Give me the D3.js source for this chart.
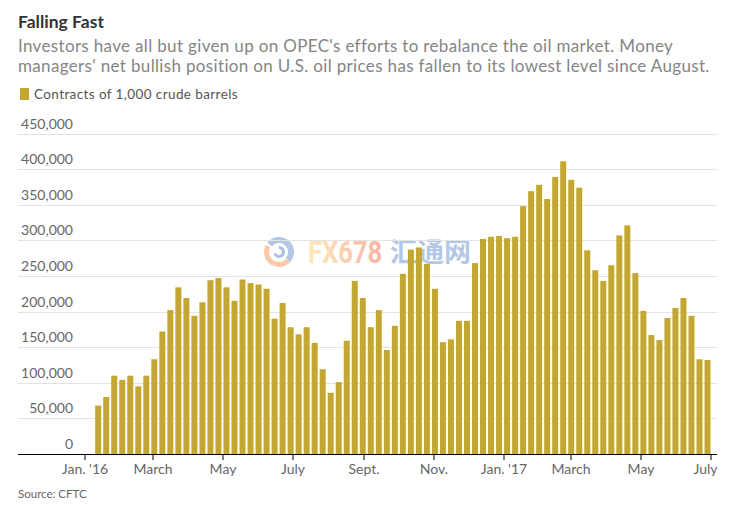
<!DOCTYPE html>
<html>
<head>
<meta charset="utf-8">
<script src="https://cdnjs.cloudflare.com/ajax/libs/d3/7.8.5/d3.min.js"></script>
<style>
  html, body { margin: 0; padding: 0; background: #fff; }
  svg { display: block; font-family: Lato, sans-serif; }
</style>
</head>
<body>
<svg id="chart" width="734" height="505"></svg>
<script>
// Weekly CFTC report dates, Tuesdays
var firstWeek = '2016-01-12'
var lastWeek = '2017-06-27'

// Net long position, contracts
var contracts = [
  68000, 80000, 110000, 104000, 110000, 95000, 110000, 133000, 172000, 202000,
  234000, 219000, 194000, 213000, 244000, 247000, 234000, 215000, 245000, 240000,
  238000, 232000, 190000, 212000, 178000, 168000, 178000, 156000, 119000, 86000,
  101000, 159000, 243000, 219000, 178000, 202000, 146000, 180000, 253000, 287000,
  290000, 267000, 232000, 157000, 161000, 187000, 187000, 268000, 302000, 305000,
  306000, 303000, 305000, 348000, 369000, 378000, 358000, 389000, 411000, 385000,
  374000, 286000, 258000, 243000, 265000, 307000, 321000, 254000, 201000, 167000,
  160000, 191000, 205000, 219000, 194000, 133000, 132000
]

var yTicks = [0, 50000, 100000, 150000, 200000, 250000, 300000, 350000, 400000, 450000]

var xTickDates = ['2016-01-01', '2016-03-01', '2016-05-01', '2016-07-01', '2016-09-01',
  '2016-11-01', '2017-01-01', '2017-03-01', '2017-05-01', '2017-07-01']
var xTickLabels = ["Jan. '16", 'March', 'May', 'July', 'Sept.', 'Nov.', "Jan. '17", 'March', 'May', 'July']

var subtitleLines = [
  "Investors have all but given up on OPEC's efforts to rebalance the oil market. Money",
  "managers' net bullish position on U.S. oil prices has fallen to its lowest level since August."
]

var gold = '#c4a732'
var parseDate = d3.utcParse('%Y-%m-%d')

var svg = d3.select('#chart')

var x = d3.scaleUtc()
  .domain([parseDate('2016-01-01'), parseDate('2017-07-01')])
  .range([84.5, 711])
var y = d3.scaleLinear()
  .domain([0, 450000])
  .range([454, 133.5])

var weeks = d3.utcDay.range(parseDate(firstWeek), d3.utcDay.offset(parseDate(lastWeek), 1), 7)

// Header
svg.append('text').attr('x', 18).attr('y', 28)
  .attr('font-size', 17.5).attr('font-weight', 700).attr('fill', '#333')
  .text('Falling Fast')

svg.selectAll('.subtitle').data(subtitleLines).enter().append('text')
  .attr('class', 'subtitle')
  .attr('x', 18)
  .attr('y', function(d, i) { return 52 + i * 20 })
  .attr('font-size', 17)
  .attr('letter-spacing', 0.34)
  .attr('fill', '#858585')
  .text(function(d) { return d })

// Legend
svg.append('rect').attr('x', 20).attr('y', 88).attr('width', 9).attr('height', 12).attr('fill', gold)
svg.append('text').attr('x', 34).attr('y', 99)
  .attr('font-size', 13.5).attr('letter-spacing', 0.4).attr('fill', '#555')
  .text('Contracts of 1,000 crude barrels')

// Watermark, sits behind the gridlines and bars
var defs = svg.append('defs')
var fade = defs.append('linearGradient').attr('id', 'fxFade')
fade.append('stop').attr('offset', '0%').attr('stop-color', '#fdeab8')
fade.append('stop').attr('offset', '100%').attr('stop-color', '#fbb3a6')

var mark = svg.append('g').attr('class', 'watermark')
var logo = mark.append('g').attr('transform', 'translate(279,252)')
var logoArc = d3.arc()
logo.append('path')
  .attr('d', logoArc({innerRadius: 9, outerRadius: 15, startAngle: -0.9, endAngle: 2.3}))
  .attr('fill', '#b4c8e6')
logo.append('path')
  .attr('d', logoArc({innerRadius: 10, outerRadius: 15, startAngle: 2.3, endAngle: 5.2}))
  .attr('fill', '#f9c9a8')
logo.append('path')
  .attr('d', logoArc({innerRadius: 3, outerRadius: 6, startAngle: 0, endAngle: 4.4}))
  .attr('fill', '#a9c0e2')
// letters are tall and narrow in the original, so stretch vertically
mark.append('text')
  .attr('transform', 'translate(308,263) scale(1,1.25)')
  .attr('font-family', 'Roboto, sans-serif').attr('font-size', 25.5).attr('font-weight', 700)
  .attr('fill', 'url(#fxFade)')
  .text('FX678')
mark.append('text').attr('x', 390).attr('y', 262)
  .attr('font-family', 'Noto Sans CJK SC, sans-serif').attr('font-size', 27).attr('font-weight', 700)
  .attr('fill', '#b3c8e6')
  .text('汇通网')

// Gridlines and y labels
svg.selectAll('.grid').data(yTicks.slice(1)).enter().append('line')
  .attr('class', 'grid')
  .attr('x1', 18).attr('x2', 717)
  .attr('y1', function(d) { return Math.round(y(d)) + 0.5 })
  .attr('y2', function(d) { return Math.round(y(d)) + 0.5 })
  .attr('stroke', '#e3e3e3').attr('stroke-width', 1)

svg.selectAll('.ylabel').data(yTicks).enter().append('text')
  .attr('class', 'ylabel')
  .attr('x', 73)
  .attr('y', function(d) { return y(d) - 5 })
  .attr('text-anchor', 'end')
  .attr('font-size', 14).attr('fill', '#666')
  .text(function(d) { return d3.format(',')(d) })

// Bars
svg.selectAll('.bar').data(contracts).enter().append('rect')
  .attr('class', 'bar')
  .attr('x', function(d, i) { return x(weeks[i]) - 1.9 })
  .attr('width', 6)
  .attr('y', function(d) { return y(d) })
  .attr('height', function(d) { return y(0) - y(d) })
  .attr('fill', gold)

// X axis
svg.append('line')
  .attr('x1', 18).attr('x2', 717).attr('y1', 454.5).attr('y2', 454.5)
  .attr('stroke', '#000').attr('stroke-width', 1.2)

var ticks = svg.selectAll('.xtick').data(xTickDates).enter().append('g')
  .attr('class', 'xtick')
  .attr('transform', function(d) { return 'translate(' + Math.round(x(parseDate(d))) + ',454)' })
ticks.append('line').attr('y2', 6).attr('stroke', '#000').attr('stroke-width', 1)
ticks.append('text')
  .attr('y', 20)
  // last label is pulled in so it stays inside the plot edge
  .attr('x', function(d, i) { return i === xTickDates.length - 1 ? -5.5 : 0 })
  .attr('text-anchor', 'middle')
  .attr('font-size', 14).attr('fill', '#666')
  .text(function(d, i) { return xTickLabels[i] })

// Source
svg.append('text').attr('x', 18).attr('y', 498)
  .attr('font-size', 11.5).attr('fill', '#666')
  .text('Source: CFTC')
</script>
</body>
</html>
